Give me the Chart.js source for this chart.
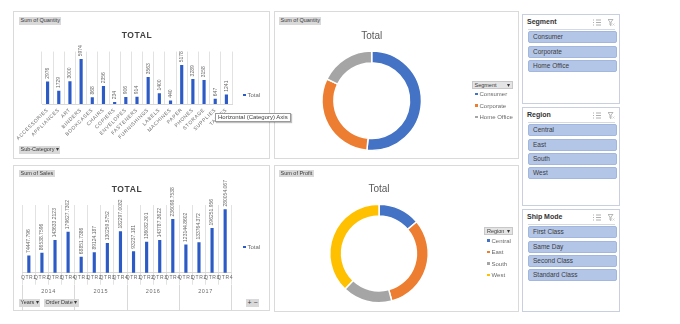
<!DOCTYPE html>
<html>
<head>
<meta charset="utf-8">
<script src="https://cdn.jsdelivr.net/npm/chart.js@4.4.1/dist/chart.umd.min.js"></script>
<style>
  body { margin: 0; width: 680px; height: 324px; background: #fff; position: relative; overflow: hidden;
         font-family: 'Liberation Sans', Arial, sans-serif; }
  .panel { position: absolute; border: 1px solid #dadada; box-sizing: border-box; background: #fff; }
  .box { position: absolute; }
  .btn { position: absolute; background: #d9d9d9; color: #3a3a3a; font-size: 5.5px; line-height: 7.5px; height: 7.5px;
         padding: 0 1.5px; white-space: nowrap; box-sizing: border-box; }
  .drop { position: absolute; background: #e4e4e4; border: 1px solid #c8c8c8; color: #3a3a3a; font-size: 5.5px;
          line-height: 6px; height: 8px; padding: 0 2px; box-sizing: border-box; white-space: nowrap; }
  .drop span { position: absolute; right: 2px; }
  .leg { position: absolute; font-size: 6px; color: #6a6a6a; white-space: nowrap; line-height: 8px; }
  .leg i { display: inline-block; width: 2.5px; height: 2.5px; margin-right: 2px; vertical-align: 1px; }
  .slicer { position: absolute; left: 522px; width: 98px; border: 1px solid #c8cfdf; box-sizing: border-box; background: #fff; }
  .slicer .hd { position: absolute; left: 4px; top: 3px; font-size: 7px; font-weight: bold; color: #333; }
  .slicer .ln { position: absolute; left: 5px; right: 4px; top: 14px; height: 1px; background: #d5d9e2; }
  .slicer .it { position: absolute; left: 5px; width: 88.5px; height: 12px; box-sizing: border-box; background: #b4c6e7;
                border: 1px solid #a3b7de; border-radius: 2px; font-size: 6.5px; line-height: 10px; padding-left: 4px; color: #3b3b3b; }
  .slicer svg { position: absolute; top: 4px; }
  .tip { position: absolute; left: 215px; top: 113px; width: 76px; height: 9px; box-sizing: border-box; background: #fff;
         border: 1px solid #9a9a9a; font-size: 6px; line-height: 7px; color: #404040; padding-left: 2px; white-space: nowrap;
         box-shadow: 1px 1px 1px rgba(0,0,0,0.25); z-index: 5; }
</style>
</head>
<body>

<div class="panel" style="left:13px;top:11px;width:257px;height:148px"></div>
<div class="panel" style="left:13px;top:165px;width:257px;height:146px"></div>
<div class="panel" style="left:274px;top:11px;width:245px;height:148px"></div>
<div class="panel" style="left:274px;top:165px;width:245px;height:147px"></div>

<div class="box" style="left:13px;top:11px;width:257px;height:148px"><canvas id="quantityChart"></canvas></div>
<div class="box" style="left:13px;top:165px;width:257px;height:146px"><canvas id="salesChart"></canvas></div>
<div class="box" style="left:274px;top:11px;width:245px;height:148px"><canvas id="segmentChart"></canvas></div>
<div class="box" style="left:274px;top:165px;width:245px;height:147px"><canvas id="regionChart"></canvas></div>

<div class="btn" style="left:19px;top:17px">Sum of Quantity</div>
<div class="btn" style="left:19px;top:146px">Sub-Category ▾</div>
<div class="btn" style="left:19px;top:169.5px">Sum of Sales</div>
<div class="btn" style="left:19px;top:299px">Years ▾</div>
<div class="btn" style="left:44px;top:299px">Order Date ▾</div>
<div class="btn" style="left:246px;top:299px;font-size:7px">+ −</div>
<div class="btn" style="left:279px;top:17px">Sum of Quantity</div>
<div class="btn" style="left:279px;top:169.5px">Sum of Profit</div>

<div class="leg" style="left:243px;top:91px"><i style="background:#2d5bc6"></i>Total</div>
<div class="leg" style="left:243px;top:243px"><i style="background:#2d5bc6"></i>Total</div>

<div class="drop" style="left:471.5px;top:80.5px;width:41px">Segment<span>▾</span></div>
<div id="segmentLegend"></div>
<div class="drop" style="left:484px;top:226.5px;width:29px">Region<span>▾</span></div>
<div id="regionLegend"></div>

<div class="tip">Horizontal (Category) Axis</div>

<div id="slicers"></div>

<script>
// data
const subCategories = ['Accessories', 'Appliances', 'Art', 'Binders', 'Bookcases', 'Chairs', 'Copiers', 'Envelopes', 'Fasteners',
                       'Furnishings', 'Labels', 'Machines', 'Paper', 'Phones', 'Storage', 'Supplies', 'Tables'];
const quantityBySubCategory = [2976, 1729, 3000, 5974, 868, 2356, 234, 906, 914, 3563, 1400, 440, 5178, 3289, 3158, 647, 1241];

const years = ['2014', '2015', '2016', '2017'];
const quarters = ['Qtr1', 'Qtr2', 'Qtr3', 'Qtr4'];
const salesByQuarter = [74447.796, 86538.7596, 143633.2123, 179627.7302,
                        68851.7386, 89124.187, 130259.5752, 182297.0082,
                        93237.181, 136082.301, 143787.3622, 236098.7538,
                        123144.8602, 133764.372, 196251.956, 280054.067];

const segments = ['Consumer', 'Corporate', 'Home Office'];
const quantityBySegment = [19521, 11608, 6744];

const regions = ['Central', 'East', 'South', 'West'];
const profitByRegion = [39706.36, 91522.78, 46749.43, 108418.45];

const shipModes = ['First Class', 'Same Day', 'Second Class', 'Standard Class'];

const barBlue = '#2d5bc6';
const pieColors = ['#4472c4', '#ed7d31', '#a5a5a5', '#ffc000'];

Chart.defaults.font.family = "'Liberation Sans', Arial, sans-serif";

const salesLabels = years.flatMap(() => quarters);

// letter spaced text, like the excel chart style
const spacedText = {
    id: 'spacedText',
    beforeDraw(chart) { chart.ctx.letterSpacing = '0.6px'; },
    afterDraw(chart) { chart.ctx.letterSpacing = '0px'; }
};

// vertical value labels over the bars
const barValueLabels = {
    id: 'barValueLabels',
    afterDatasetsDraw(chart) {
        const ctx = chart.ctx;
        const values = chart.data.datasets[0].data;
        ctx.save();
        ctx.letterSpacing = '0px';
        ctx.font = "5px 'Liberation Sans', Arial, sans-serif";
        ctx.fillStyle = '#6a6a6a';
        ctx.textAlign = 'left';
        ctx.textBaseline = 'middle';
        chart.getDatasetMeta(0).data.forEach((bar, i) => {
            ctx.save();
            ctx.translate(bar.x, bar.y - 3);
            ctx.rotate(-Math.PI / 2);
            ctx.fillText(String(values[i]), 0, 0);
            ctx.restore();
        });
        ctx.restore();
    }
};

// Quantity by sub-category
new Chart(document.getElementById('quantityChart'), {
    type: 'bar',
    data: {
        labels: subCategories,
        datasets: [{ label: 'Total', data: quantityBySubCategory, backgroundColor: barBlue, barThickness: 2.5 }]
    },
    options: {
        responsive: true,
        maintainAspectRatio: false,
        animation: false,
        layout: { padding: { left: 29, right: 38, top: 0, bottom: 0 } },
        plugins: {
            legend: { display: false },
            tooltip: { enabled: false },
            title: { display: true, text: 'TOTAL', color: '#404040', font: { size: 8.5, weight: 'bold' }, padding: { top: 20, bottom: 10.4 } }
        },
        scales: {
            y: { display: false, min: 0, max: 7000 },
            x: {
                grid: { color: '#e2e2e2', offset: true, drawTicks: false },
                border: { color: '#d9d9d9' },
                ticks: {
                    color: '#6a6a6a', font: { size: 5 }, minRotation: 45, maxRotation: 45, autoSkip: false, padding: 3,
                    callback: (v, i) => subCategories[i].toUpperCase()
                },
                afterFit(scale) { scale.height = 55; }
            }
        }
    },
    plugins: [spacedText, barValueLabels]
});

// Sales by quarter
new Chart(document.getElementById('salesChart'), {
    type: 'bar',
    data: {
        labels: salesLabels,
        datasets: [{ label: 'Total', data: salesByQuarter, backgroundColor: barBlue, barThickness: 2.5 }]
    },
    options: {
        responsive: true,
        maintainAspectRatio: false,
        animation: false,
        layout: { padding: { left: 9.3, right: 38.3, top: 0, bottom: 0 } },
        plugins: {
            legend: { display: false },
            tooltip: { enabled: false },
            title: { display: true, text: 'TOTAL', color: '#404040', font: { size: 8.5, weight: 'bold' }, padding: { top: 19.2, bottom: 10.6 } }
        },
        scales: {
            y: { display: false, min: 0, max: 300000 },
            x: {
                grid: { color: '#e2e2e2', offset: true, drawTicks: true, tickLength: 12 },
                border: { color: '#d9d9d9' },
                ticks: {
                    color: '#6a6a6a', font: { size: 5 }, maxRotation: 0, autoSkip: false, padding: -10,
                    callback: (v, i) => salesLabels[i].toUpperCase()
                },
                afterFit(scale) { scale.height = 12; }
            },
            x2: {
                type: 'category',
                labels: years,
                position: 'bottom',
                weight: 1,
                offset: true,
                grid: { color: '#d9d9d9', offset: true, drawOnChartArea: false, tickLength: 26 },
                border: { display: false },
                ticks: { color: '#6a6a6a', font: { size: 5.5 }, maxRotation: 0, padding: -23 },
                afterFit(scale) { scale.height = 26.3; }
            }
        }
    },
    plugins: [spacedText, barValueLabels]
});

// Quantity by segment
new Chart(document.getElementById('segmentChart'), {
    type: 'doughnut',
    data: {
        labels: segments,
        datasets: [{ data: quantityBySegment, backgroundColor: pieColors.slice(0, 3), borderColor: '#fff', borderWidth: 1.5 }]
    },
    options: {
        responsive: true,
        maintainAspectRatio: false,
        animation: false,
        cutout: '76%',
        layout: { padding: { left: 47.2, right: 96.8, top: 0, bottom: 7.8 } },
        plugins: {
            legend: { display: false },
            tooltip: { enabled: false },
            title: { display: true, text: 'Total', color: '#595959', font: { size: 10, weight: 'normal' }, padding: { top: 19.7, bottom: 7.5 } }
        }
    }
});

// Profit by region
new Chart(document.getElementById('regionChart'), {
    type: 'doughnut',
    data: {
        labels: regions,
        datasets: [{ data: profitByRegion, backgroundColor: pieColors, borderColor: '#fff', borderWidth: 1.5 }]
    },
    options: {
        responsive: true,
        maintainAspectRatio: false,
        animation: false,
        cutout: '76%',
        layout: { padding: { left: 55, right: 90, top: 0, bottom: 8.5 } },
        plugins: {
            legend: { display: false },
            tooltip: { enabled: false },
            title: { display: true, text: 'Total', color: '#595959', font: { size: 10, weight: 'normal' }, padding: { top: 18, bottom: 8.5 } }
        }
    }
});

// legends next to the donuts
function buildLegend(id, names, left, top, step) {
    const el = document.getElementById(id);
    names.forEach((name, i) => {
        const d = document.createElement('div');
        d.className = 'leg';
        d.style.left = left + 'px';
        d.style.top = (top + i * step) + 'px';
        d.innerHTML = '<i style="background:' + pieColors[i] + '"></i>' + name;
        el.appendChild(d);
    });
}
buildLegend('segmentLegend', segments, 475, 90.3, 11.5);
buildLegend('regionLegend', regions, 487, 236.7, 11.5);

// slicers
const icons = '<svg style="left:70px" width="8" height="7" viewBox="0 0 8 7"><path d="M0 1h1M0 3.5h1M0 6h1M3 1h5M3 3.5h5M3 6h5" stroke="#9a9a9a" stroke-width="0.8"/></svg>' +
              '<svg style="left:85px" width="7" height="7" viewBox="0 0 7 7"><path d="M0 0.5h5L3 3v3.5L2 6V3z" fill="none" stroke="#9a9a9a" stroke-width="0.7"/><path d="M4.5 4.5l2 2M6.5 4.5l-2 2" stroke="#c9c9c9" stroke-width="0.7"/></svg>';
function buildSlicer(title, items, top, height) {
    const s = document.createElement('div');
    s.className = 'slicer';
    s.style.top = top + 'px';
    s.style.height = height + 'px';
    let html = '<div class="hd">' + title + '</div><div class="ln"></div>' + icons;
    items.forEach((name, i) => {
        html += '<div class="it" style="top:' + (16.3 + i * 14.3) + 'px">' + name + '</div>';
    });
    s.innerHTML = html;
    document.getElementById('slicers').appendChild(s);
}
buildSlicer('Segment', segments, 14, 90);
buildSlicer('Region', regions, 107, 99);
buildSlicer('Ship Mode', shipModes, 209, 103);
</script>
</body>
</html>
